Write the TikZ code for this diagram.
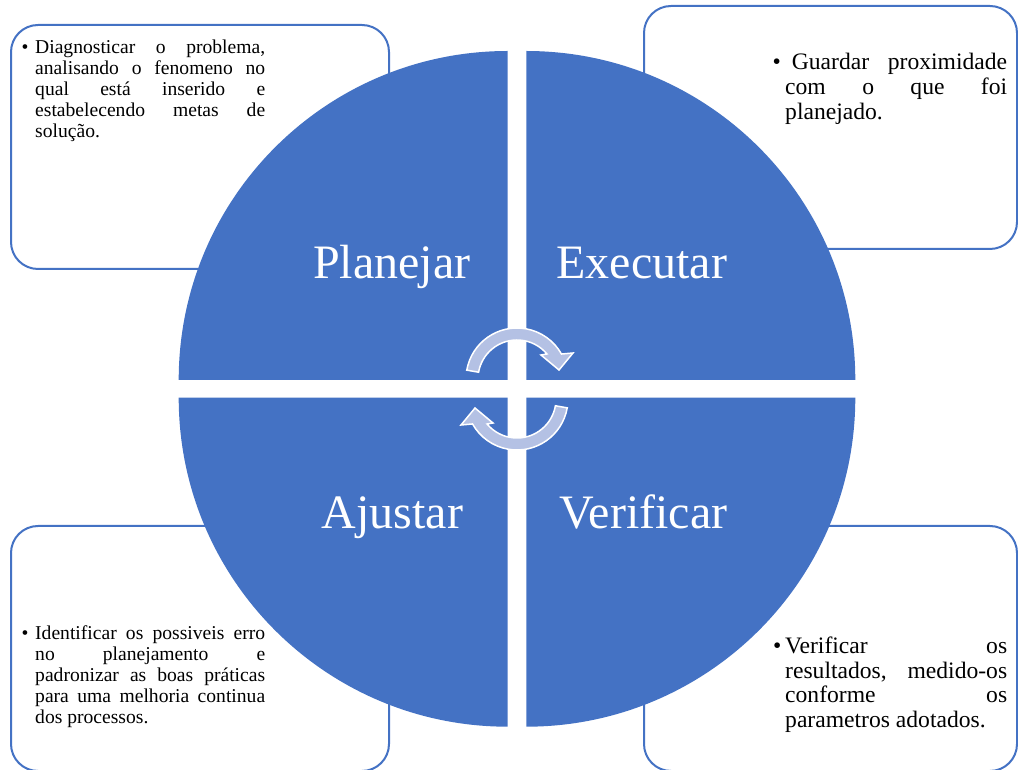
\documentclass[tikz,border=0pt]{standalone}
\usepackage{fontspec}
\setmainfont{Liberation Serif}
\definecolor{accent}{RGB}{68,114,196}
\definecolor{arrowfill}{RGB}{180,193,228}
\begin{document}
\begin{tikzpicture}[x=1pt,y=1pt,
  panel/.style={draw=accent, line width=2pt, rounded corners=27pt, fill=white, inner sep=0pt},
  quad/.style={fill=accent},
  lab/.style={text=white, font=\fontsize{48}{58}\selectfont, anchor=base, inner sep=0pt},
  smalltxt/.style={anchor=base west, inner sep=0pt, text width=230pt, align=justify, font=\fontsize{19.6}{20.8}\selectfont},
  bigtxt/.style={anchor=base west, inner sep=0pt, text width=222pt, align=justify, font=\fontsize{23.6}{24.8}\selectfont},
  cyc/.style={fill=arrowfill, draw=white, line width=1.5pt, line join=miter}]
\useasboundingbox (0,0) rectangle (1018,769);
% text panels
\node[panel, minimum width=378pt, minimum height=244pt] (tlbox) at (200,622) {};
\node[panel, minimum width=373pt, minimum height=243pt] (trbox) at (830.5,641.5) {};
\node[panel, minimum width=378pt, minimum height=245pt] (blbox) at (200,120.5) {};
\node[panel, minimum width=373pt, minimum height=245pt] (brbox) at (830.5,120.5) {};
% quadrants
\fill[quad] (507.7,389) -- ++(-329,0) arc[start angle=180,end angle=90,radius=329pt] -- cycle;
\fill[quad] (526.3,389) -- ++(0,329) arc[start angle=90,end angle=0,radius=329pt] -- cycle;
\fill[quad] (507.7,371.3) -- ++(-329,0) arc[start angle=180,end angle=270,radius=329pt] -- cycle;
\fill[quad] (526.3,371.3) -- ++(0,-329) arc[start angle=270,end angle=360,radius=329pt] -- cycle;
% labels
\node[lab] (planejar) at (391.7,490.7) {Planejar};
\node[lab] (executar) at (641.7,490.7) {Executar};
\node[lab] (ajustar) at (392.5,240.7) {Ajustar};
\node[lab] (verificar) at (643.3,240.7) {Verificar};
% circular arrows
\path[cyc] ([shift={(517,390)}]170:51pt) arc[start angle=170,end angle=29.3,radius=51pt]
  -- (573,416) -- (559,399) -- (541,414)
  -- ([shift={(517,390)}]39.9:39pt) arc[start angle=39.9,end angle=170,radius=39pt] -- cycle;
\path[cyc, rotate around={180:(517,380)}] ([shift={(517,390)}]170:51pt) arc[start angle=170,end angle=29.3,radius=51pt]
  -- (573,416) -- (559,399) -- (541,414)
  -- ([shift={(517,390)}]39.9:39pt) arc[start angle=39.9,end angle=170,radius=39pt] -- cycle;
% texts
\node[smalltxt] (tltext) at (35,715) {\leavevmode\llap{\textbullet\hspace{6.6pt}}Diagnosticar o problema,\linebreak analisando o fenomeno no\linebreak qual está inserido e\linebreak estabelecendo metas de\linebreak solução.};
\node[bigtxt] (trtext) at (785,699) {\leavevmode\llap{\textbullet\hspace{4.4pt}}\hspace*{6.7pt}Guardar proximidade\linebreak com o que foi\linebreak planejado.};
\node[smalltxt] (bltext) at (35,129) {\leavevmode\llap{\textbullet\hspace{6.6pt}}Identificar os possiveis erro\linebreak no planejamento e\linebreak padronizar as boas práticas\linebreak para uma melhoria continua\linebreak dos processos.};
\node[bigtxt] (brtext) at (785,115.7) {\leavevmode\llap{\textbullet\hspace{3.9pt}}Verificar os\linebreak resultados, medido-os\linebreak conforme os\linebreak parametros adotados.};
\end{tikzpicture}
\end{document}
